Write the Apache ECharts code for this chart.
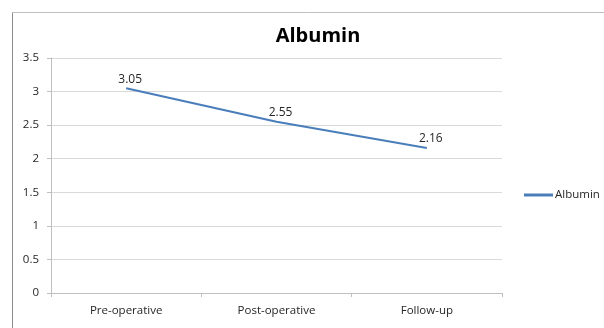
<!DOCTYPE html>
<html>
<head>
<meta charset="utf-8">
<script src="https://cdn.jsdelivr.net/npm/echarts@6/dist/echarts.min.js"></script>
<style>
  html, body { margin: 0; padding: 0; background: #fff; }
  #chart { width: 604px; height: 328px; }
</style>
</head>
<body>
<div id="chart"></div>
<script>
// Serum albumin across the three measurement points
const categories = ['Pre-operative', 'Post-operative', 'Follow-up'];
const albumin = [3.05, 2.55, 2.16];
const seriesName = 'Albumin';
const yTicks = { min: 0, max: 3.5, step: 0.5 };

const font = '"Open Sans", "Noto Sans", sans-serif';
const chart = echarts.init(document.getElementById('chart'), null, { renderer: 'canvas' });

chart.setOption({
  animation: false,
  backgroundColor: '#fff',
  title: {
    text: 'Albumin',
    left: 313,
    top: 21,
    textAlign: 'center',
    textStyle: { fontFamily: font, fontSize: 20, fontWeight: 'bold', color: '#000' }
  },
  graphic: [
    { type: 'line', shape: { x1: 12.5, y1: 12.5, x2: 604, y2: 12.5 }, style: { stroke: '#bfbfbf', lineWidth: 1 } },
    { type: 'line', shape: { x1: 12.5, y1: 12.5, x2: 12.5, y2: 328 }, style: { stroke: '#8c8c8c', lineWidth: 1 } }
  ],
  legend: {
    data: [seriesName],
    left: 519,
    top: 184,
    orient: 'vertical',
    itemWidth: 29,
    itemHeight: 3,
    itemGap: 3,
    icon: 'rect',
    textStyle: { fontFamily: font, fontSize: 11.5, color: '#262626', padding: [0, 0, 0, -3] }
  },
  grid: { left: 51, right: 102, top: 58, bottom: 35, containLabel: false },
  xAxis: {
    type: 'category',
    data: categories,
    boundaryGap: true,
    axisLine: { lineStyle: { color: '#bfbfbf', width: 1 } },
    axisTick: { show: true, alignWithLabel: false, length: 4, lineStyle: { color: '#bfbfbf' } },
    axisLabel: { fontFamily: font, fontSize: 11.5, color: '#262626', margin: 12 }
  },
  yAxis: {
    type: 'value',
    min: yTicks.min,
    max: yTicks.max,
    interval: yTicks.step,
    axisLine: { show: true, lineStyle: { color: '#bfbfbf', width: 1 } },
    axisTick: { show: true, length: 4, lineStyle: { color: '#bfbfbf' } },
    axisLabel: { fontFamily: font, fontSize: 11.5, color: '#262626', margin: 12 },
    splitLine: { show: true, lineStyle: { color: '#d9d9d9', width: 1 } }
  },
  series: [{
    name: seriesName,
    type: 'line',
    data: albumin,
    symbol: 'circle',
    symbolSize: 0,
    showSymbol: true,
    lineStyle: { color: '#4a7ebb', width: 2.2 },
    itemStyle: { color: '#4a7ebb' },
    label: {
      show: true,
      position: 'top',
      distance: 3,
      offset: [4, 0],
      fontFamily: font,
      fontSize: 12,
      color: '#262626'
    }
  }]
});
</script>
</body>
</html>
